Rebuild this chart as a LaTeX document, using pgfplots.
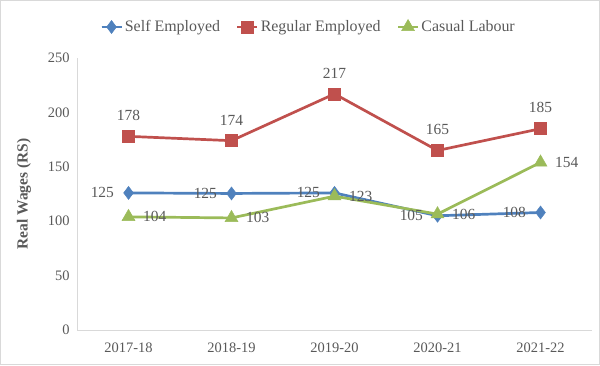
\documentclass[border=0pt]{standalone}
\usepackage{pgfplots}
\pgfplotsset{compat=1.18}
\usepackage{pgfplotstable}
\usepackage{fontspec}
\setmainfont{Liberation Serif}
\definecolor{cblue}{HTML}{4F81BD}
\definecolor{cred}{HTML}{C0504D}
\definecolor{cgreen}{HTML}{9BBB59}
\definecolor{ctxt}{HTML}{595959}
\definecolor{caxis}{HTML}{D9D9D9}
\pgfplotstableread{
x y lab
0 126 125
1 125.5 125
2 126 125
3 105 105
4 108 108
}\selfemp
\pgfplotstableread{
x y lab
0 178 178
1 174 174
2 217 217
3 165 165
4 185 185
}\regemp
\pgfplotstableread{
x y lab
0 104 104
1 103 103
2 123 123
3 106.5 106
4 154 154
}\casual
\begin{document}
\begin{tikzpicture}[x=1bp,y=1bp]
\path[use as bounding box] (0,0) rectangle (600,365);
\draw[caxis,line width=1bp] (0.5,0.5) rectangle (599.5,364.5);
\begin{axis}[
  at={(77bp,35bp)}, anchor=south west,
  scale only axis, width=515bp, height=272bp,
  xmin=-0.5, xmax=4.5, ymin=0, ymax=250,
  xtick={0,1,2,3,4},
  xticklabels={2017-18,2018-19,2019-20,2020-21,2021-22},
  ytick={0,50,100,150,200,250},
  axis x line*=bottom, axis y line*=left,
  axis line style={caxis, line width=1bp, -},
  tick style={draw=none},
  ticklabel style={font=\fontsize{14.5}{16}\selectfont, text=ctxt},
  /pgf/number format/assume math mode=true,
  xticklabel style={yshift=-9bp},
  yticklabel style={xshift=-4bp},
  ylabel={\textbf{Real Wages (RS)}},
  ylabel style={font=\fontsize{15.5}{17}\selectfont, text=ctxt, at={(axis description cs:-0.103,0.5)}, anchor=center},
  legend style={at={(axis description cs:0.4495,1.114)}, anchor=center, draw=none, fill=none,
     legend columns=3, font=\fontsize{16}{18}\selectfont, text=ctxt,
     /tikz/every even column/.append style={column sep=14bp}},
  legend image code/.code={
     \draw[#1] (0bp,0bp) -- (20bp,0bp);
     \draw[#1, mark repeat=2,mark phase=2] plot coordinates {(0bp,0bp) (10bp,0bp) (20bp,0bp)};
  },
  nodes near coords,
  point meta=explicit symbolic,
  every node near coord/.append style={font=\fontsize{15.5}{17}\selectfont, text=ctxt},
  clip=false,
]
\addplot[cblue, line width=2.7bp, mark=diamond*, mark size=6.5bp, mark options={solid, fill=cblue, draw=cblue, line width=0.5bp},
  every node near coord/.append style={anchor=east, xshift=-11bp}]
  table[x=x,y=y,meta=lab] {\selfemp};
\addlegendentry{Self Employed}
\addplot[cred, line width=2.7bp, mark=square*, mark size=6bp, mark options={solid, fill=cred, draw=cred, line width=0.5bp},
  every node near coord/.append style={anchor=south, yshift=12bp}]
  table[x=x,y=y,meta=lab] {\regemp};
\addlegendentry{Regular Employed}
\addplot[cgreen, line width=2.7bp, mark=triangle*, mark size=7.5bp, mark options={solid, fill=cgreen, draw=cgreen, line width=0.5bp},
  every node near coord/.append style={anchor=west, xshift=11bp, yshift=0bp}]
  table[x=x,y=y,meta=lab] {\casual};
\addlegendentry{Casual Labour}
\end{axis}
\end{tikzpicture}
\end{document}
